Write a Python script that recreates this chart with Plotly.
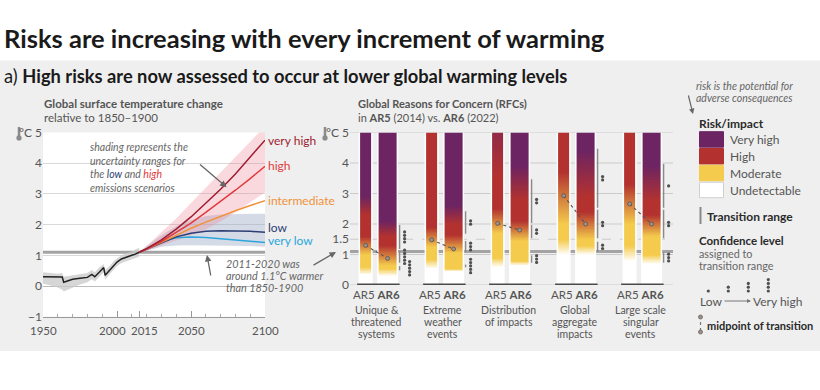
import numpy as np
import plotly.graph_objects as go

W, H = 820, 390
FONT = "Lato"

# ---------------- data ----------------
hist_years = [1950, 1955, 1960, 1963, 1964, 1966, 1970, 1975, 1980, 1983, 1985, 1988,
              1991, 1992, 1995, 1998, 2000, 2003, 2005, 2008, 2010, 2012, 2015]
hist_temp = [0.30, 0.29, 0.30, 0.29, 0.12, 0.16, 0.22, 0.25, 0.28, 0.38, 0.30, 0.45,
             0.60, 0.35, 0.52, 0.70, 0.78, 0.88, 0.92, 0.96, 1.00, 1.03, 1.10]
hist_low = [0.08, 0.02, -0.05, -0.12, -0.18, -0.15, -0.05, 0.05, 0.12, 0.22, 0.15, 0.30,
            0.45, 0.20, 0.38, 0.55, 0.65, 0.75, 0.80, 0.84, 0.88, 0.90, 0.95]
hist_high = [0.45, 0.42, 0.40, 0.42, 0.30, 0.32, 0.35, 0.40, 0.42, 0.52, 0.45, 0.60,
             0.72, 0.52, 0.65, 0.82, 0.90, 1.00, 1.04, 1.08, 1.12, 1.18, 1.25]

proj_years = [2015, 2020, 2030, 2040, 2050, 2060, 2070, 2080, 2090, 2100]
scen_very_high = [1.10, 1.22, 1.50, 1.85, 2.25, 2.70, 3.15, 3.65, 4.20, 4.75]
scen_high = [1.10, 1.20, 1.45, 1.75, 2.05, 2.40, 2.75, 3.12, 3.50, 3.90]
scen_intermediate = [1.10, 1.20, 1.42, 1.65, 1.88, 2.08, 2.27, 2.45, 2.62, 2.78]
scen_low = [1.10, 1.20, 1.42, 1.60, 1.72, 1.78, 1.80, 1.80, 1.78, 1.75]
scen_very_low = [1.10, 1.22, 1.45, 1.57, 1.60, 1.58, 1.54, 1.50, 1.46, 1.42]
high_range_low = [1.10, 1.15, 1.30, 1.48, 1.65, 1.85, 2.10, 2.40, 2.72, 3.05]
high_range_high = [1.10, 1.30, 1.75, 2.20, 2.70, 3.20, 3.70, 4.20, 4.70, 5.20]
low_range_low = [1.10, 1.15, 1.28, 1.32, 1.33, 1.33, 1.32, 1.31, 1.30, 1.28]
low_range_high = [1.10, 1.30, 1.65, 1.95, 2.15, 2.28, 2.33, 2.35, 2.35, 2.35]

scenario_labels = ["very high", "high", "intermediate", "low", "very low"]
scenario_label_y = [4.75, 3.93, 2.79, 1.92, 1.48]
observed_warming = 1.1

x_tick_years = [1950, 2000, 2015, 2050, 2100]
x_tick_text = ["1950", "2000", "2015", "2050", "2100"]
left_y_ticks = [-1, 0, 1, 2, 3, 4, 5]
right_y_ticks = [0, 1, 1.5, 2, 3, 4, 5]

rfc_names = ["Unique &<br>threatened<br>systems", "Extreme<br>weather<br>events",
             "Distribution<br>of impacts", "Global<br>aggregate<br>impacts",
             "Large scale<br>singular<br>events"]
# transition ranges (°C) used for the colour of each bar
ar5_undetect_to_moderate = [(0.35, 0.60), (0.55, 0.85), (0.60, 0.90), (1.00, 1.50), (0.80, 1.30)]
ar5_moderate_to_high = [(1.00, 1.60), (1.25, 1.90), (1.70, 2.50), (2.00, 3.70), (2.00, 3.30)]
ar5_high_to_very_high = [(2.30, 2.90), None, (3.60, 6.50), None, None]
ar5_midpoints = [1.30, 1.48, 2.02, 2.93, 2.66]

ar6_undetect_to_moderate = [(0.30, 0.55), (0.45, 0.55), (0.65, 0.80), (1.00, 1.30), (0.70, 1.00)]
ar6_moderate_to_high = [(0.65, 1.30), (1.05, 1.65), (1.45, 2.10), (1.50, 2.40), (1.60, 2.30)]
ar6_high_to_very_high = [(1.60, 2.10), (2.00, 2.60), (2.80, 3.90), (2.90, 4.40), (2.75, 3.90)]
ar6_midpoints = [0.87, 1.18, 1.80, 2.00, 2.00]

# AR6 transition ranges with confidence (low, high, number of dots)
ar6_confidence = [
    [(1.15, 2.00, 4), (0.70, 1.15, 5), (0.45, 0.65, 5)],
    [(1.65, 2.45, 2), (1.05, 1.47, 3), (0.55, 0.70, 5)],
    [(2.00, 3.50, 2), (1.50, 2.00, 2), (0.70, 1.00, 3)],
    [(2.50, 4.50, 2), (1.50, 2.50, 2), (1.05, 1.45, 2)],
    [(2.50, 4.00, 1), (1.50, 2.50, 2), (0.70, 1.10, 3)],
]

legend_levels = ["Very high", "High", "Moderate", "Undetectable"]
legend_colors = ["#6d2462", "#b3322f", "#f4cb4c", "#ffffff"]

# ---------------- helpers ----------------
def X(px):
    return px / W


def Y(py):
    return 1 - py / H


GREY_TXT = "#555555"
C_VH, C_H, C_I, C_L, C_VL = "#9e1b32", "#e03a3e", "#f0923a", "#2d3e74", "#2aa6dc"
scen_colors = [C_VH, C_H, C_I, C_L, C_VL]

fig = go.Figure()

# ---------------- left chart ----------------
fig.add_trace(go.Scatter(x=proj_years + proj_years[::-1], y=low_range_high + low_range_low[::-1],
                         fill="toself", fillcolor="rgba(150,162,195,0.40)", line=dict(width=0),
                         hoverinfo="skip", showlegend=False))
fig.add_trace(go.Scatter(x=proj_years + proj_years[::-1], y=high_range_high + high_range_low[::-1],
                         fill="toself", fillcolor="rgba(238,130,145,0.30)", line=dict(width=0),
                         hoverinfo="skip", showlegend=False))
fig.add_trace(go.Scatter(x=hist_years + hist_years[::-1], y=hist_high + hist_low[::-1],
                         fill="toself", fillcolor="rgba(200,200,200,0.75)", line=dict(width=0),
                         hoverinfo="skip", showlegend=False))
fig.add_trace(go.Scatter(x=hist_years, y=hist_temp, mode="lines", line=dict(color="#222", width=1.5),
                         hoverinfo="skip", showlegend=False))
for series, col in zip([scen_very_low, scen_low, scen_intermediate, scen_high, scen_very_high],
                       [C_VL, C_L, C_I, C_H, C_VH]):
    fig.add_trace(go.Scatter(x=proj_years, y=series, mode="lines", line=dict(color=col, width=1.5),
                             hoverinfo="skip", showlegend=False))

# ---------------- right chart: gradient bars ----------------
colorscale = [[0, legend_colors[3]], [1 / 3, legend_colors[2]], [2 / 3, legend_colors[1]], [1, legend_colors[0]]]
y_edges = np.linspace(0, 5, 251)
y_mid = (y_edges[:-1] + y_edges[1:]) / 2


def risk_level(transitions):
    lvl = np.zeros_like(y_mid)
    for tr in transitions:
        if tr is None:
            continue
        lo, hi = tr
        lvl += np.clip((y_mid - lo) / (hi - lo), 0, 1)
    return lvl


UNIT = 66.0  # pixels per group
AR5_OFF, AR6_OFF = -11 / UNIT, 11 / UNIT
AR5_W, AR6_W = 11 / UNIT, 18 / UNIT
shapes = []

for i in range(len(rfc_names)):
    for off, w, trans in [(AR5_OFF, AR5_W, [ar5_undetect_to_moderate[i], ar5_moderate_to_high[i], ar5_high_to_very_high[i]]),
                          (AR6_OFF, AR6_W, [ar6_undetect_to_moderate[i], ar6_moderate_to_high[i], ar6_high_to_very_high[i]])]:
        c = i + off
        z = risk_level(trans).reshape(-1, 1)
        fig.add_trace(go.Heatmap(x=[c - w / 2, c + w / 2], y=y_edges, z=z, colorscale=colorscale,
                                 zmin=0, zmax=3, showscale=False, hoverinfo="skip",
                                 xaxis="x2", yaxis="y2"))
    fig.add_trace(go.Scatter(x=[i + AR5_OFF, i + AR6_OFF], y=[ar5_midpoints[i], ar6_midpoints[i]],
                             mode="lines+markers", xaxis="x2", yaxis="y2",
                             line=dict(color="#555", width=1.1, dash="dot"),
                             marker=dict(size=4, color="#a09088", line=dict(color="#555", width=0.8)),
                             hoverinfo="skip", showlegend=False))
    line_x = i + AR6_OFF + AR6_W / 2 + 3 / UNIT
    lx, ly, dx, dy = [], [], [], []
    prev_span = None
    for lo, hi, n in ar6_confidence[i]:
        lx += [line_x, line_x, None]
        ly += [lo + 0.03, hi - 0.03, None]
        cen = (lo + hi) / 2
        span = (cen - (n - 1) / 2 * 0.11, cen + (n - 1) / 2 * 0.11)
        xoff = 8
        if prev_span is not None and span[1] > prev_span[0] - 0.05:
            xoff = 13
        prev_span = span
        for k in range(n):
            dx.append(i + AR6_OFF + AR6_W / 2 + xoff / UNIT)
            dy.append(span[0] + k * 0.11)
    fig.add_trace(go.Scatter(x=lx, y=ly, mode="lines", line=dict(color="#8a8a8a", width=1.4),
                             xaxis="x2", yaxis="y2", hoverinfo="skip", showlegend=False))
    fig.add_trace(go.Scatter(x=dx, y=dy, mode="markers", marker=dict(size=3.2, color="#505050"),
                             xaxis="x2", yaxis="y2", hoverinfo="skip", showlegend=False))

# ---------------- shapes ----------------
shapes.append(dict(type="rect", xref="paper", yref="paper", x0=0, x1=1, y0=Y(351), y1=Y(60.5),
                   fillcolor="#efefef", line=dict(width=0), layer="below"))
shapes.append(dict(type="rect", xref="x domain", yref="y domain", x0=0, x1=1, y0=0, y1=1,
                   fillcolor="white", line=dict(width=0), layer="below"))
shapes.append(dict(type="line", xref="x domain", yref="y", x0=0, x1=1, y0=observed_warming, y1=observed_warming,
                   line=dict(color="#a3a3a3", width=3), layer="below"))
shapes.append(dict(type="rect", xref="paper", yref="paper", x0=X(88), x1=X(198), y0=Y(168), y1=Y(156),
                   fillcolor="white", line=dict(width=0), layer="between"))
for v in right_y_ticks:
    dash = "dash" if v == 1.5 else "solid"
    shapes.append(dict(type="line", xref="x2 domain", yref="y2", x0=0, x1=1, y0=v, y1=v,
                       line=dict(color="#cbcbcb", width=1, dash=dash), layer="below"))
shapes.append(dict(type="line", xref="x2 domain", yref="y2", x0=0, x1=1, y0=observed_warming, y1=observed_warming,
                   line=dict(color="#a3a3a3", width=3), layer="below"))
pad = 1.5 / UNIT
for i in range(len(rfc_names)):
    for off, w in [(AR5_OFF, AR5_W), (AR6_OFF, AR6_W)]:
        shapes.append(dict(type="rect", xref="x2", yref="y2", x0=i + off - w / 2 - pad, x1=i + off + w / 2 + pad,
                           y0=0, y1=5, fillcolor="white", line=dict(width=0), layer="below"))
    shapes.append(dict(type="line", xref="x2", yref="y2", x0=i + AR5_OFF - AR5_W / 2 - 3 / UNIT,
                       x1=i + AR6_OFF + AR6_W / 2 + 3 / UNIT, y0=0, y1=0,
                       line=dict(color="#4a4a4a", width=3), layer="above"))

for tx in [19, 325]:
    shapes.append(dict(type="line", xref="paper", yref="paper", x0=X(tx), x1=X(tx), y0=Y(127), y1=Y(136),
                       line=dict(color="#8a8a8a", width=2.5)))
    shapes.append(dict(type="circle", xref="paper", yref="paper", x0=X(tx - 2.6), x1=X(tx + 2.6),
                       y0=Y(140.5), y1=Y(135.3), fillcolor="#8a8a8a", line=dict(width=0)))

sw_top = [131.7, 148.5, 165.3, 182.2]
for top, col in zip(sw_top, legend_colors):
    shapes.append(dict(type="rect", xref="paper", yref="paper", x0=X(699.5), x1=X(723.5),
                       y0=Y(top + 15.5), y1=Y(top), fillcolor=col,
                       line=dict(color="#d0d0d0" if col == "#ffffff" else col, width=1)))
shapes.append(dict(type="line", xref="paper", yref="paper", x0=X(700.5), x1=X(700.5), y0=Y(224), y1=Y(207),
                   line=dict(color="#888", width=2)))
for k, cx in enumerate([708.3, 728.3, 748.3, 768.3]):
    for j in range(k + 1):
        cy = 291 - j * 3.8
        shapes.append(dict(type="circle", xref="paper", yref="paper", x0=X(cx - 1.6), x1=X(cx + 1.6),
                           y0=Y(cy + 1.6), y1=Y(cy - 1.6), fillcolor="#505050", line=dict(width=0)))
shapes.append(dict(type="line", xref="paper", yref="paper", x0=X(700.5), x1=X(700.5), y0=Y(331), y1=Y(318),
                   line=dict(color="#777", width=1.2, dash="dot")))
for cy in [317, 332]:
    shapes.append(dict(type="circle", xref="paper", yref="paper", x0=X(698.5), x1=X(702.5),
                       y0=Y(cy + 2), y1=Y(cy - 2), fillcolor="#a09088", line=dict(color="#666", width=0.8)))

# ---------------- annotations ----------------
ann = []


def txt(px, py, text, size=12, color=GREY_TXT, xanchor="left", family=FONT, **kw):
    kw.setdefault("borderpad", 0)
    ann.append(dict(x=X(px), y=Y(py), xref="paper", yref="paper", text=text, showarrow=False,
                    xanchor=xanchor, yanchor="middle", font=dict(size=size, color=color, family=family), **kw))


txt(3, 38, "<b>Risks are increasing with every increment of warming</b>", size=25.5, color="#1a1a1a")
txt(3, 76, "a) <b>High risks are now assessed to occur at lower global warming levels</b>", size=18.3, color="#1a1a1a")

txt(43, 104, "<b>Global surface temperature change</b>", size=11.5)
txt(43, 117, "relative to 1850–1900", size=11.5)
txt(357, 104, "<b>Global Reasons for Concern (RFCs)</b>", size=11)
txt(357, 117, "in <b>AR5</b> (2014) vs. <b>AR6</b> (2022)", size=11)
txt(33, 132.5, "°C", size=12, xanchor="right")
txt(340, 132.5, "°C", size=12, xanchor="right")

# x tick labels of the left chart (2000 and 2015 sit close together, so they are placed side by side)
xa_px0, xa_px1, xr0, xr1 = 43, 265, 1950, 2100


def year_px(yr):
    return xa_px0 + (yr - xr0) / (xr1 - xr0) * (xa_px1 - xa_px0)


TICK_Y = 330
for yr, lab in zip(x_tick_years, x_tick_text):
    if yr in (2000, 2015):
        continue
    txt(year_px(yr), TICK_Y, lab, size=11.5, xanchor="center")
mid_px = (year_px(2000) + year_px(2015)) / 2
txt(mid_px - 1.5, TICK_Y, x_tick_text[1], size=11.5, xanchor="right")
txt(mid_px + 1.5, TICK_Y, x_tick_text[2], size=11.5, xanchor="left")

for lab, yv, col in zip(scenario_labels, scenario_label_y, scen_colors):
    ann.append(dict(x=X(267), y=yv, xref="paper", yref="y", text=lab, showarrow=False, xanchor="left",
                    yanchor="middle", borderpad=0, font=dict(size=12, color=col, family=FONT)))

HAND = "#666666"
shade_note = ("<i>shading represents the<br>uncertainty ranges for<br>"
              f"the <span style='color:{C_L}'>low</span> and <span style='color:{C_H}'>high</span><br>"
              "emissions scenarios</i>")
txt(89, 167.5, shade_note, size=10.5, color=HAND, align="left")
ann.append(dict(x=2074, y=3.22, xref="x", yref="y", ax=-28, ay=-24, text="", showarrow=True,
                arrowhead=2, arrowsize=1, arrowwidth=1.3, arrowcolor="#666"))

for line, py in zip(["2011-2020 was", "around 1.1°C warmer", "than 1850-1900"], [263.5, 275.5, 287.5]):
    txt(225, py, "<i>" + line + "</i>", size=10.8, color=HAND)
ann.append(dict(x=X(207), y=Y(255), xref="paper", yref="paper", ax=4, ay=22, text="", showarrow=True,
                arrowhead=2, arrowsize=1, arrowwidth=1.3, arrowcolor="#666"))
ann.append(dict(x=X(336), y=Y(252), xref="paper", yref="paper", ax=-24, ay=14, text="", showarrow=True,
                arrowhead=2, arrowsize=1, arrowwidth=1.3, arrowcolor="#666"))

for i, name in enumerate(rfc_names):
    ann.append(dict(x=i, y=Y(294), xref="x2", yref="paper", text="AR5 <b>AR6</b>", showarrow=False,
                    xanchor="center", yanchor="middle", borderpad=0,
                    font=dict(size=11.5, color=GREY_TXT, family=FONT)))
    for j, part in enumerate(name.split("<br>")):
        ann.append(dict(x=i, y=Y(309.5 + j * 12.4), xref="x2", yref="paper", text=part, showarrow=False,
                        xanchor="center", yanchor="middle", borderpad=0,
                        font=dict(size=10.5, color=GREY_TXT, family=FONT)))

txt(695, 85.5, "<i>risk is the potential for</i>", size=10.5, color=HAND)
txt(695, 97.5, "<i>adverse consequences</i>", size=10.5, color=HAND)
ann.append(dict(x=X(693), y=Y(114), xref="paper", yref="paper", ax=-5, ay=-20, text="", showarrow=True,
                arrowhead=2, arrowsize=0.9, arrowwidth=1.2, arrowcolor="#666"))
txt(698, 123, "<b>Risk/impact</b>", size=12, color="#2a2a2a")
for top, lab in zip(sw_top, legend_levels):
    txt(729, top + 8, lab, size=12, color=GREY_TXT)
txt(706, 216, "<b>Transition range</b>", size=12, color="#2a2a2a")
txt(698, 240.5, "<b>Confidence level</b>", size=11.5, color="#2a2a2a")
txt(698, 253.2, "assigned to", size=10.8, color="#666")
txt(698, 265.6, "transition range", size=10.8, color="#666")
txt(699, 301, "Low", size=12, color=GREY_TXT)
ann.append(dict(x=X(751), y=Y(301), xref="paper", yref="paper", ax=-28, ay=0, text="", showarrow=True,
                arrowhead=2, arrowsize=0.8, arrowwidth=1, arrowcolor="#777"))
txt(752, 301, "Very high", size=12, color=GREY_TXT)
txt(706, 325, "<b>midpoint of transition</b>", size=11, color="#2a2a2a")

# ---------------- layout ----------------
fig.update_layout(
    width=W, height=H, margin=dict(l=0, r=0, t=0, b=0, pad=0), autosize=False,
    paper_bgcolor="white", plot_bgcolor="rgba(0,0,0,0)",
    font=dict(family=FONT, color=GREY_TXT), showlegend=False,
    xaxis=dict(domain=[X(xa_px0), X(xa_px1)], range=[xr0, xr1], tickvals=x_tick_years, showticklabels=False,
               ticks="inside", ticklen=6, tickcolor="#999", showline=True, linecolor="#999",
               minor=dict(dtick=10, ticks="inside", ticklen=3, tickcolor="#aaa"),
               showgrid=False, zeroline=False, anchor="y", automargin=False),
    yaxis=dict(domain=[Y(316.7), Y(132.5)], range=[-1, 5], tickvals=left_y_ticks,
               showgrid=True, gridcolor="#d9d9d9", zeroline=True, zerolinecolor="#bdbdbd", zerolinewidth=1.2,
               tickfont=dict(size=12, color=GREY_TXT, family=FONT), anchor="x", ticks="", automargin=False),
    xaxis2=dict(domain=[X(350), X(673)], range=[(350 - 376.6) / UNIT, (673 - 376.6) / UNIT],
                showgrid=False, zeroline=False, showticklabels=False, anchor="y2", automargin=False),
    yaxis2=dict(domain=[Y(285), Y(132.5)], range=[0, 5], tickvals=right_y_ticks,
                showgrid=False, zeroline=False, tickfont=dict(size=12, color=GREY_TXT, family=FONT),
                anchor="x2", ticks="", automargin=False),
    shapes=shapes, annotations=ann,
)

fig.write_html("out.html", config={"displayModeBar": False},
               post_script="document.body.style.margin='0px';document.body.style.overflow='hidden';")
